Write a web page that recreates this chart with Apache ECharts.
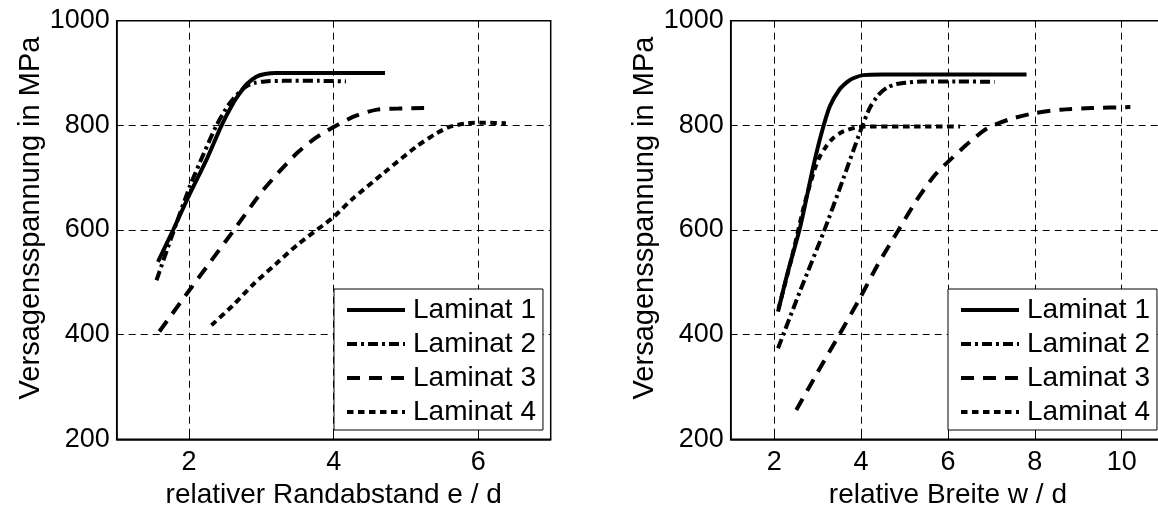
<!DOCTYPE html>
<html>
<head>
<meta charset="utf-8">
<script src="https://cdn.jsdelivr.net/npm/echarts@6/dist/echarts.min.js"></script>
<style>
html,body{margin:0;padding:0;background:#fff;}
#c{width:1158px;height:505px;}
</style>
</head>
<body>
<div id="c"></div>
<script>
// ---------- data ----------
const seriesNames = ['Laminat 1', 'Laminat 2', 'Laminat 3', 'Laminat 4'];

// left plot: relativer Randabstand e / d
const leftL1x = [1.57, 1.78, 1.99, 2.25, 2.45, 2.6, 2.7, 2.8, 2.93, 3.05, 3.2, 3.6, 4.2, 4.71];
const leftL1y = [539, 600, 663, 737, 800, 840, 861, 879, 893, 898, 900, 900, 900, 900];
const leftL2x = [1.55, 1.78, 2.01, 2.2, 2.38, 2.55, 2.7, 2.8, 2.9, 3.05, 3.3, 3.8, 4.17];
const leftL2y = [504, 595, 683, 745, 800, 840, 864, 875, 881, 884, 885, 885, 884];
const leftL3x = [1.59, 2.0, 2.3, 2.6, 3.0, 3.25, 3.5, 3.75, 4.0, 4.3, 4.6, 4.9, 5.25];
const leftL3y = [406, 484, 540, 596, 672, 712, 748, 776, 797, 818, 830, 832, 833];
const leftL4x = [2.31, 2.6, 2.88, 3.2, 3.5, 4.0, 4.24, 4.7, 5.14, 5.4, 5.6, 5.85, 6.1, 6.38];
const leftL4y = [418, 455, 495, 535, 572, 625, 657, 710, 759, 783, 797, 804, 805, 804];

// right plot: relative Breite w / d
const rightL1x = [2.09, 2.3, 2.6, 2.9, 3.09, 3.28, 3.5, 3.7, 3.85, 4.05, 4.5, 5.5, 6.5, 7.81];
const rightL1y = [444, 515, 606, 721, 785, 836, 868, 884, 891, 896, 897, 897, 897, 897];
const rightL2x = [2.09, 2.6, 3.13, 3.6, 3.98, 4.2, 4.4, 4.6, 4.82, 5.1, 5.4, 6.2, 7.08];
const rightL2y = [374, 484, 594, 700, 788, 833, 858, 872, 879, 882, 884, 884, 883];
const rightL3x = [2.51, 3.0, 3.5, 3.97, 4.4, 4.85, 5.28, 5.7, 6.05, 6.5, 6.9, 7.4, 7.97, 8.6, 9.3, 10.2];
const rightL3y = [256, 328, 400, 469, 536, 598, 657, 705, 734, 768, 794, 811, 823, 830, 833, 835];
const rightL4x = [2.1, 2.4, 2.7, 2.94, 3.05, 3.19, 3.35, 3.58, 3.97, 4.5, 5.5, 6.28];
const rightL4y = [450, 545, 650, 718, 740, 759, 775, 788, 797, 798, 798, 798];

const yTicks = [200, 400, 600, 800, 1000];
const xTitleLeft = 'relativer Randabstand e / d';
const xTitleRight = 'relative Breite w / d';
const yTitle = 'Versagensspannung in MPa';

// ---------- styles ----------
const FONT = 'Liberation Sans, Arial, Helvetica, sans-serif';
const FS_TICK = 27;
const FS_XNAME = 28;
const FS_YNAME = 29;
const FS_LEG = 28;
const dashTypes = ['solid', [10, 4, 3, 4], [13, 9], [6.5, 4.5]];
const LW = 4;

function zip(xs, ys) { return xs.map((x, i) => [x, ys[i]]); }

const leftData = [zip(leftL1x, leftL1y), zip(leftL2x, leftL2y), zip(leftL3x, leftL3y), zip(leftL4x, leftL4y)];
const rightData = [zip(rightL1x, rightL1y), zip(rightL2x, rightL2y), zip(rightL3x, rightL3y), zip(rightL4x, rightL4y)];

function xAxisDef(gridIndex, min, max, split, name) {
  return {
    type: 'value', gridIndex, min, max, splitNumber: split,
    name, nameLocation: 'middle', nameGap: 30,
    nameTextStyle: { fontFamily: FONT, fontSize: FS_XNAME, color: '#000' },
    axisLine: { show: true, onZero: false, lineStyle: { color: '#000', width: 1.5 } },
    axisTick: { show: true, inside: true, length: 4, lineStyle: { color: '#000' } },
    axisLabel: { fontFamily: FONT, fontSize: FS_TICK, color: '#000', margin: 10, showMinLabel: false, showMaxLabel: false },
    splitLine: { show: true, lineStyle: { color: '#000', width: 1, type: [7, 5] } }
  };
}
function yAxisDef(gridIndex) {
  return {
    type: 'value', gridIndex, min: yTicks[0], max: yTicks[yTicks.length - 1], interval: 200,
    name: yTitle, nameLocation: 'middle', nameGap: 66,
    nameTextStyle: { fontFamily: FONT, fontSize: FS_YNAME, color: '#000', padding: [0, 0, 0, 24] },
    axisLine: { show: true, onZero: false, lineStyle: { color: '#000', width: 1.5 } },
    axisTick: { show: true, inside: true, length: 4, lineStyle: { color: '#000' } },
    axisLabel: { fontFamily: FONT, fontSize: FS_TICK, color: '#000', margin: 7, formatter: v => String(v) },
    splitLine: { show: true, lineStyle: { color: '#000', width: 1, type: [7, 5] } }
  };
}

const series = [];
[leftData, rightData].forEach((set, gi) => {
  set.forEach((d, i) => {
    series.push({
      type: 'line', name: seriesNames[i], xAxisIndex: gi, yAxisIndex: gi,
      data: d, showSymbol: false, symbol: 'none', smooth: 0.25,
      lineStyle: { color: '#000', width: LW, type: dashTypes[i], cap: 'butt' },
      itemStyle: { color: '#000' },
      animation: false
    });
  });
});

function legendDef(left) {
  return {
    left, top: 289, orient: 'vertical',
    data: seriesNames,
    itemWidth: 58, itemHeight: 14, itemGap: 6,
    padding: [7, 7, 4, 11],
    backgroundColor: '#fff', borderColor: '#000', borderWidth: 1,
    itemStyle: { opacity: 0, color: 'transparent', borderWidth: 0 },
    lineStyle: { width: LW, opacity: 1 },
    textStyle: { fontFamily: FONT, fontSize: FS_LEG, color: '#000', lineHeight: 28, padding: [0, 0, 0, 3] },
    selectedMode: false
  };
}

const gridBase = { top: 20.7, bottom: 65.7, show: true, borderColor: '#000', borderWidth: 1.5, backgroundColor: 'transparent', containLabel: false, outerBoundsMode: 'none' };

const option = {
  backgroundColor: '#fff',
  animation: false,
  grid: [
    Object.assign({ left: 116.7, right: 607.3 }, gridBase),
    Object.assign({ left: 730.7, right: -7.1 }, gridBase)
  ],
  xAxis: [xAxisDef(0, 1, 7, 3, xTitleLeft), xAxisDef(1, 1, 11, 5, xTitleRight)],
  yAxis: [yAxisDef(0), yAxisDef(1)],
  legend: [legendDef(334), legendDef(948)],
  series
};

const chart = echarts.init(document.getElementById('c'), null, { renderer: 'canvas' });
chart.setOption(option);
</script>
</body>
</html>
